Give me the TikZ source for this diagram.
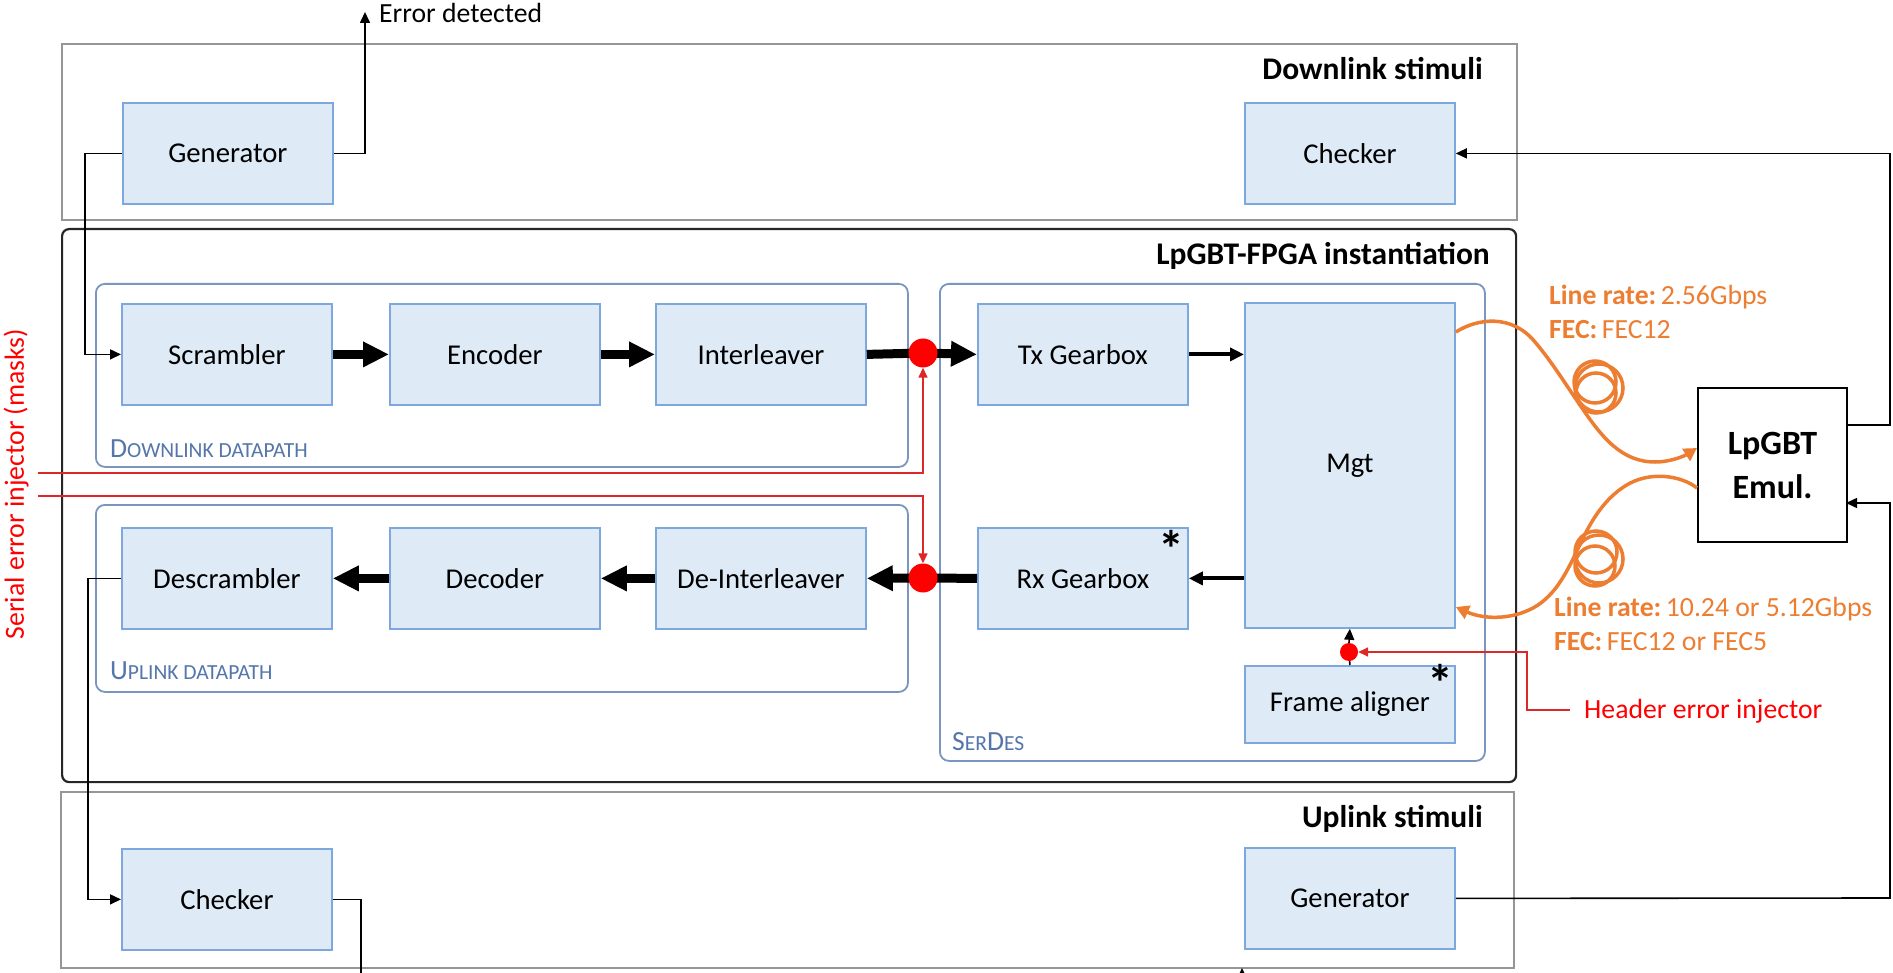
\documentclass[tikz,border=0pt]{standalone}
\usepackage{fontspec}
\setmainfont{Carlito}
\usetikzlibrary{arrows.meta,calc}

\definecolor{blkfill}{RGB}{222,234,246}
\definecolor{blkline}{RGB}{125,168,222}
\definecolor{grpline}{RGB}{122,150,190}
\definecolor{grplabel}{RGB}{84,118,170}
\definecolor{stimline}{RGB}{150,150,150}
\definecolor{fiber}{RGB}{237,125,49}
\definecolor{injred}{RGB}{222,40,40}
\definecolor{dotred}{RGB}{255,0,0}

\newcommand\bodyfont{\fontsize{27.7}{33}\selectfont}
\newcommand\blockfont{\fontsize{28.7}{34}\selectfont}
\newcommand\titlefont{\fontsize{31.5}{38}\selectfont\bfseries}
\newcommand\emulfont{\fontsize{34}{44}\selectfont\bfseries}
\newcommand\smallcapsfont{\fontsize{21.5}{26}\selectfont}
\newcommand\fakesc[2]{#1{\smallcapsfont #2}}

\begin{document}
\begin{tikzpicture}[x=1pt,y=-1pt,
  block/.style={draw=blkline,fill=blkfill,line width=1.8pt,minimum width=210pt,
    minimum height=101pt,inner sep=0pt,anchor=north west,font=\blockfont},
  grp/.style={draw=grpline,line width=1.8pt,rounded corners=9pt,inner sep=0pt,anchor=north west},
  stim/.style={draw=stimline,line width=2pt,inner sep=0pt,anchor=north west},
  fpgabox/.style={draw=black!85,line width=2.2pt,rounded corners=7pt,inner sep=0pt,anchor=north west},
  boxtitle/.style={font=\titlefont,inner sep=0pt,anchor=base east},
  grplbl/.style={text=grplabel,font=\bodyfont,inner sep=0pt,anchor=base west},
  reddot/.style={circle,fill=dotred,inner sep=0pt,minimum size=29pt},
  asterisk/.style={font=\fontsize{52}{52}\selectfont\bfseries,inner sep=0pt},
  fattarrow/.style={line width=9pt,-{Triangle[length=26pt,width=24pt]}},
  fatline/.style={line width=9pt},
  medarrow/.style={line width=4pt,-{Triangle[length=14pt,width=13pt]}},
  wire/.style={line width=1.6pt,black},
  wirearrow/.style={wire,-{Triangle[length=11pt,width=10pt]}},
  redwire/.style={line width=1.6pt,injred,-{Triangle[length=10pt,width=9pt]}},
  fiberline/.style={line width=3.5pt,fiber},
  fibertxt/.style={text=fiber,font=\bodyfont,inner sep=0pt,anchor=base west}
]
\useasboundingbox (0,0) rectangle (1893,973);
\fill[white] (0,0) rectangle (1893,973);

% enclosing frames
\node[stim,minimum width=1455pt,minimum height=176pt] (dlstim) at (61,43) {};
\node[fpgabox,minimum width=1454pt,minimum height=553pt] (fpga) at (61,228) {};
\node[stim,minimum width=1453pt,minimum height=176pt] (ulstim) at (60,791) {};
\node[grp,minimum width=812pt,minimum height=183pt] (dlpath) at (95,283) {};
\node[grp,minimum width=812pt,minimum height=187pt] (ulpath) at (95,504) {};
\node[grp,minimum width=545pt,minimum height=477pt] (serdes) at (939,283) {};

\node[boxtitle] (dlstimT) at (1483,80) {Downlink stimuli};
\node[boxtitle] (fpgaT) at (1490,265) {LpGBT-FPGA instantiation};
\node[boxtitle] (ulstimT) at (1483,827) {Uplink stimuli};

\node[grplbl] (dlpathL) at (110,457) {\fakesc{D}{OWNLINK DATAPATH}};
\node[grplbl] (ulpathL) at (110,679) {\fakesc{U}{PLINK DATAPATH}};
\node[grplbl] (serdesL) at (952,750) {\fakesc{S}{ER}\fakesc{D}{ES}};

% functional blocks
\node[block] (genA) at (122,102) {Generator};
\node[block] (chkA) at (1244,102) {Checker};
\node[block] (scr) at (121,303) {Scrambler};
\node[block] (enc) at (389,303) {Encoder};
\node[block] (intl) at (655,303) {Interleaver};
\node[block] (dscr) at (121,527) {Descrambler};
\node[block] (dec) at (389,527) {Decoder};
\node[block] (dintl) at (655,527) {De-Interleaver};
\node[block] (txg) at (977,303) {Tx Gearbox};
\node[block] (rxg) at (977,527) {Rx Gearbox};
\node[block,minimum height=325pt] (mgt) at (1244,302) {Mgt};
\node[block,minimum height=77pt] (fal) at (1244,665) {Frame aligner};
\node[block] (chkB) at (121,848) {Checker};
\node[block] (genB) at (1244,847) {Generator};

\node[asterisk] (astRx) at (1171,549) {*};
\node[asterisk] (astFa) at (1440,683) {*};

\node[draw=black,fill=white,line width=2pt,minimum width=149pt,minimum height=154pt,
  anchor=north west,align=center,font=\emulfont,inner sep=0pt] (emul) at (1697,387) {LpGBT\\Emul.};

% injection points
\coordinate (jA) at (923,353);
\coordinate (jB) at (923,578);
\coordinate (jC) at (1349,652);

% data path
\draw[fattarrow] (scr.east) -- (enc.west);
\draw[fattarrow] (enc.east) -- (intl.west);
\draw[fatline] (intl.east) -- (jA);
\draw[fattarrow] (jA) -- (txg.west);
\draw[medarrow] (txg.east) -- (mgt.west |- txg.east);
\draw[medarrow] (mgt.west |- rxg.east) -- (rxg.east);
\draw[fatline] (rxg.west) -- (jB);
\draw[fattarrow] (jB) -- (dintl.east);
\draw[fattarrow] (dintl.west) -- (dec.east);
\draw[fattarrow] (dec.west) -- (dscr.east);
\draw[wire] (fal.north) -- (jC);

\node[reddot] (dotA) at (jA) {};
\node[reddot] (dotB) at (jB) {};
\node[reddot,minimum size=18pt] (dotC) at (jC) {};
\draw[wirearrow] (dotC.north) -- (mgt.south);

% stimuli connections
\coordinate (errtip) at (365,12);
\draw[wirearrow] (genA.east) -| (errtip);
\node[font=\bodyfont,inner sep=0pt,anchor=base west] (errT) at (379,23) {Error detected};
\draw[wirearrow] (genA.west) -- ++(-37,0) |- (scr.west);
\draw[wirearrow] (dscr.west) -- ++(-33,0) |- (chkB.west);
\coordinate (chkout) at (361,980);
\draw[wire] (chkB.east) -| (chkout);
\coordinate (emulOut) at (1846,425);
\coordinate (emulIn) at (1846,503);
\draw[wirearrow] (emulOut) -- (1890,425) |- (chkA.east);
\draw[wirearrow] (genB.east) -- (1890,898) |- (emulIn);
\coordinate (tickfoot) at (1242,990);
\draw[wirearrow] (tickfoot) -- (1242,968);

% error injectors
\node[rotate=90,text=dotred,font=\bodyfont,inner sep=0pt] (serialT) at (16,484) {Serial error injector (masks)};
\coordinate (inj1) at (38,473);
\coordinate (inj2) at (38,496);
\draw[redwire] (inj1) -| (dotA.south);
\draw[redwire] (inj2) -| (dotB.north);
\node[text=dotred,font=\bodyfont,inner sep=0pt,anchor=base west] (hdrT) at (1584,718) {Header error injector};
\coordinate (hdr) at (1570,710);
\draw[redwire] (hdr) -- ++(-43,0) |- (dotC.east);

% optical links
\draw[fiberline,-{Triangle[length=13pt,width=14pt]}] (mgt.east |- 0,332)
  .. controls (1478,318) and (1512,314) .. (1535,342)
  .. controls (1552,362) and (1566,385) .. (1580,405)
  .. controls (1602,438) and (1622,462) .. (1655,462)
  .. controls (1672,462) and (1686,455) .. (emul.west |- 0,448);
\draw[fiberline] (1595,382) circle[radius=21pt];
\draw[fiberline] (1599,388) circle[radius=24pt];
\draw[fiberline] (1596,393) circle[radius=20pt];

\draw[fiberline,-{Triangle[length=13pt,width=14pt]}] (emul.west |- 0,488)
  .. controls (1682,476) and (1650,470) .. (1625,486)
  .. controls (1605,499) and (1593,518) .. (1583,538)
  .. controls (1570,565) and (1560,590) .. (1538,605)
  .. controls (1515,620) and (1485,620) .. (mgt.east |- 0,607);
\draw[fiberline] (1596,552) circle[radius=21pt];
\draw[fiberline] (1599,559) circle[radius=24pt];
\draw[fiberline] (1595,566) circle[radius=20pt];

\node[fibertxt] (lr1) at (1549,305) {\textbf{Line rate:}\,2.56Gbps};
\node[fibertxt] (fec1) at (1549,339) {\textbf{FEC:}\,FEC12};
\node[fibertxt] (lr2) at (1554,616) {\textbf{Line rate:}\,10.24 or 5.12Gbps};
\node[fibertxt] (fec2) at (1554,650) {\textbf{FEC:}\,FEC12 or FEC5};
\end{tikzpicture}
\end{document}
